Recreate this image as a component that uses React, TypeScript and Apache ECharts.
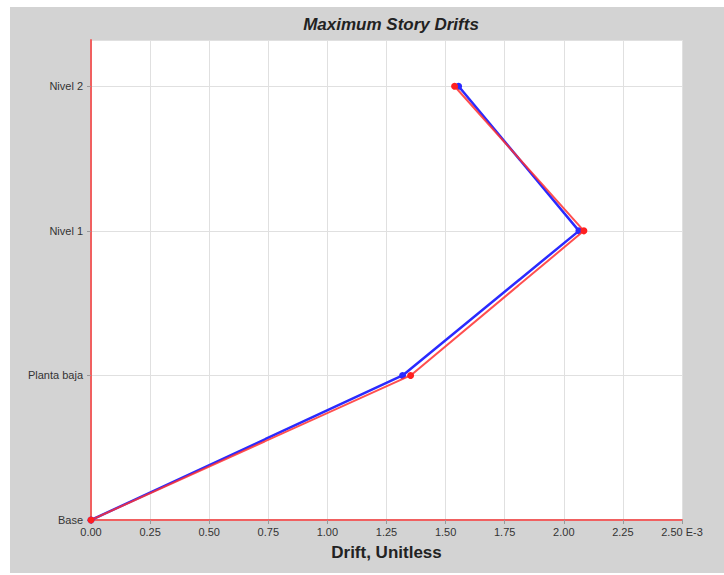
import React, { useEffect, useRef } from "react";
import * as echarts from "echarts";

const stories = ["Base", "Planta baja", "Nivel 1", "Nivel 2"];
const storyLevels = [0, 1, 2, 3];
const driftBlue = [0, 1.318, 2.064, 1.555];
const driftRed = [0, 1.352, 2.085, 1.538];
const xTicks = ["0.00", "0.25", "0.50", "0.75", "1.00", "1.25", "1.50", "1.75", "2.00", "2.25", "2.50 E-3"];

export default function App() {
  const ref = useRef<HTMLDivElement>(null);
  useEffect(() => {
    const chart = echarts.init(ref.current!, null, { renderer: "svg" });
    const font = "'Liberation Sans', Arial, sans-serif";
    chart.setOption({
      animation: false,
      backgroundColor: "#d3d3d3",
      title: {
        text: "Maximum Story Drifts",
        left: 376,
        textAlign: "center",
        top: 4,
        textStyle: { fontSize: 17, fontWeight: "bold", fontStyle: "italic", color: "#222", fontFamily: font },
      },
      grid: { left: 81, right: 42, top: 33, bottom: 53, backgroundColor: "#ffffff", show: true, borderWidth: 0 },
      xAxis: {
        type: "value",
        min: 0,
        max: 2.5,
        interval: 0.25,
        name: "Drift, Unitless",
        nameLocation: "middle",
        nameGap: 24,
        nameTextStyle: { fontSize: 17, fontWeight: "bold", color: "#222", fontFamily: font },
        axisLine: { show: true, lineStyle: { color: "#f06060", width: 2 } },
        axisTick: { show: true, length: 4, lineStyle: { color: "#999" } },
        axisLabel: {
          fontSize: 11,
          color: "#333",
          fontFamily: font,
          margin: 6,
          formatter: (v: number) => xTicks[Math.round(v / 0.25)] ?? "",
        },
        splitLine: { show: true, lineStyle: { color: "#e0e0e0" } },
      },
      yAxis: {
        type: "value",
        min: 0,
        max: 3.32,
        interval: 1,
        axisLine: { show: true, lineStyle: { color: "#f06060", width: 2 } },
        axisTick: { show: true, length: 4, lineStyle: { color: "#999" } },
        axisLabel: {
          fontSize: 11,
          color: "#333",
          fontFamily: font,
          margin: 8,
          showMaxLabel: false,
          formatter: (v: number) => {
            const i = storyLevels.indexOf(v);
            return i >= 0 ? stories[i] : "";
          },
        },
        splitLine: { show: true, lineStyle: { color: "#e0e0e0" } },
      },
      series: [
        {
          type: "line",
          data: storyLevels.map((y, i) => [driftBlue[i], y]),
          lineStyle: { color: "#2a2aff", width: 2.5 },
          itemStyle: { color: "#2a2aff" },
          symbol: "circle",
          symbolSize: 7,
          z: 2,
        },
        {
          type: "line",
          data: storyLevels.map((y, i) => [driftRed[i], y]),
          lineStyle: { color: "#ff3030", width: 2, opacity: 0.85 },
          itemStyle: { color: "#ff2020" },
          symbol: "circle",
          symbolSize: 7,
          z: 3,
        },
      ],
    });
    return () => chart.dispose();
  }, []);
  return <div ref={ref} style={{ position: "fixed", left: 10, top: 7, width: 714, height: 566 }} />;
}
